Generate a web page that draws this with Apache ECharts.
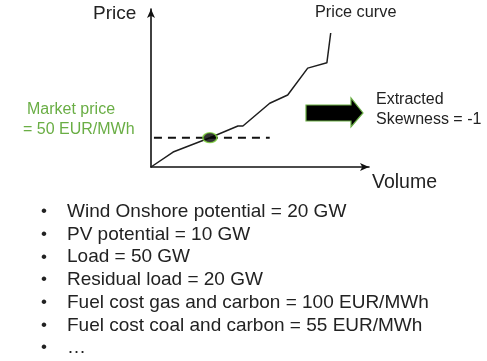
<!DOCTYPE html>
<html>
<head>
<meta charset="utf-8">
<script src="https://cdn.jsdelivr.net/npm/echarts@6/dist/echarts.min.js"></script>
<style>
  html, body { margin: 0; padding: 0; background: #fff; }
  #chart { width: 487px; height: 361px; }
</style>
</head>
<body>
<div id="chart"></div>
<script>
// Merit-order price curve: volume (GW) vs price (EUR/MWh)
const curveVolume = [0, 7.5, 20, 29.5, 31.2, 40.3, 46.4, 53.2, 59.7, 61];
const curvePrice  = [0, 25.6, 50, 70, 70, 109, 123, 169, 178, 229];

// Market clearing point and price level
const clearingVolume = 20;
const marketPrice = 50;
const priceLineVolume = [1, 40.3];

const bulletItems = [
  'Wind Onshore potential = 20 GW',
  'PV potential = 10 GW',
  'Load = 50 GW',
  'Residual load = 20 GW',
  'Fuel cost gas and carbon = 100 EUR/MWh',
  'Fuel cost coal and carbon = 55 EUR/MWh',
  '\u2026'
];

const FONT = '"Liberation Sans", Arial, sans-serif';
const INK = '#222';
const GREEN = '#6aae45';

const chart = echarts.init(document.getElementById('chart'), null, { renderer: 'canvas' });

const graphics = [
  { type: 'text', left: 93, top: 4, style: { text: 'Price', font: '19px ' + FONT, fill: INK } },
  { type: 'text', left: 372, top: 173, style: { text: 'Volume', font: '19.5px ' + FONT, fill: INK } },
  { type: 'text', left: 315, top: 5, style: { text: 'Price curve', font: '16.3px ' + FONT, fill: INK } },
  { type: 'text', left: 27, top: 102, style: { text: 'Market price', font: '16px ' + FONT, fill: GREEN } },
  { type: 'text', left: 23, top: 122, style: { text: '= 50 EUR/MWh', font: '16px ' + FONT, fill: GREEN } },
  { type: 'text', left: 376, top: 92, style: { text: 'Extracted', font: '16px ' + FONT, fill: INK } },
  { type: 'text', left: 376, top: 112, style: { text: 'Skewness = -1', font: '16px ' + FONT, fill: INK } },
  {
    type: 'polygon',
    shape: { points: [[306, 105], [351, 105], [351, 98], [363, 113], [351, 127], [351, 121], [306, 121]] },
    style: { fill: '#000', stroke: GREEN, lineWidth: 1.2 }
  }
];

bulletItems.forEach(function (item, i) {
  const y = 203 + i * 22.7;
  graphics.push({ type: 'text', left: 41, top: y, style: { text: '\u2022', font: '17px ' + FONT, fill: INK } });
  graphics.push({ type: 'text', left: 67, top: y - 0.7, style: { text: item, font: '19px ' + FONT, fill: INK } });
});

chart.setOption({
  animation: false,
  grid: { left: 151, right: 118, top: 9, bottom: 194, containLabel: false },
  xAxis: {
    type: 'value', min: 0, max: 74,
    axisLine: { show: true, symbol: ['none', 'arrow'], symbolSize: [6, 9], lineStyle: { color: '#111', width: 1.6 } },
    axisTick: { show: false }, axisLabel: { show: false }, splitLine: { show: false }
  },
  yAxis: {
    type: 'value', min: 0, max: 270,
    axisLine: { show: true, symbol: ['none', 'arrow'], symbolSize: [6, 9], lineStyle: { color: '#111', width: 1.6 } },
    axisTick: { show: false }, axisLabel: { show: false }, splitLine: { show: false }
  },
  series: [
    {
      type: 'line',
      data: priceLineVolume.map(function (v) { return [v, marketPrice]; }),
      showSymbol: false,
      lineStyle: { color: '#111', width: 2, type: [8, 6] },
      z: 2
    },
    {
      type: 'line',
      data: curveVolume.map(function (v, i) { return [v, curvePrice[i]]; }),
      showSymbol: false,
      lineStyle: { color: '#1e1e1e', width: 1.5 },
      z: 3
    },
    {
      type: 'scatter',
      data: [[clearingVolume, marketPrice]],
      symbol: 'circle',
      symbolSize: [14, 10],
      itemStyle: { color: '#000', borderColor: '#7dd43a', borderWidth: 1.5 },
      z: 4
    }
  ],
  graphic: graphics
});
</script>
</body>
</html>
